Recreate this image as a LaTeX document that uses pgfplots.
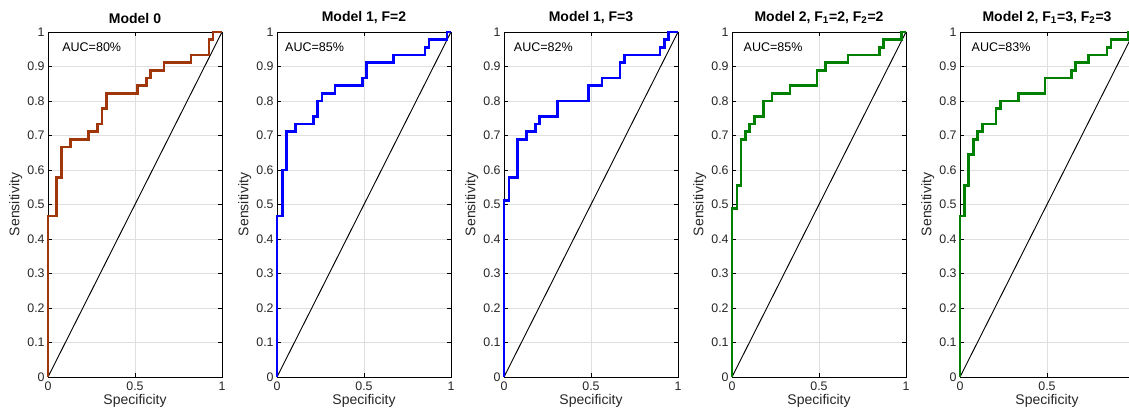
\documentclass[border=0pt]{standalone}
\usepackage{fontspec}
\setmainfont{Liberation Sans}
\usepackage{pgfplots}
\pgfplotsset{compat=1.18}

\definecolor{roc0}{RGB}{160,55,10}
\definecolor{rocblue}{RGB}{0,0,255}
\definecolor{rocgreen}{RGB}{0,128,0}

\tikzset{
  curve/.style={line width=2pt, line join=miter},
  diag/.style={black, line width=0.7pt},
  auc/.style={anchor=west, font=\fontsize{9.4}{10}\selectfont},
}

\pgfplotsset{
  roc/.style={
    set layers,
    scale only axis,
    width=130.5pt, height=258.75pt,
    anchor=south west,
    xmin=0, xmax=1, ymin=0, ymax=1,
    xtick={0,0.5,1},
    ytick={0,0.1,...,1},
    yticklabels={0,0.1,0.2,0.3,0.4,0.5,0.6,0.7,0.8,0.9,1},
    grid=major,
    major grid style={gray!25, line width=0.6pt},
    tick align=inside,
    major tick length=3pt,
    tick style={black, line width=0.5pt},
    axis line style={line width=0.6pt},
    tick label style={font=\fontsize{9.3}{10}\selectfont, text=black!85},
    label style={font=\fontsize{10.5}{12}\selectfont, text=black!85},
    title style={font=\bfseries\fontsize{10.5}{12}\selectfont, yshift=-3pt},
    xlabel={Specificity},
    ylabel={Sensitivity},
    xlabel style={yshift=4pt},
    ylabel style={yshift=-3pt},
    yticklabel style={xshift=1pt},
    /pgf/number format/assume math mode=true,
    clip=false,
  },
}

\begin{document}
\begin{tikzpicture}

% Model 0
\begin{axis}[roc, at={(36pt,24.75pt)}, title={Model 0}]
\addplot[diag] coordinates {(0,0) (1,1)};
\addplot[curve, roc0, on layer=axis foreground] coordinates {
(0,0) (0,0.467) (0.05,0.467) (0.05,0.578) (0.079,0.578) (0.079,0.667)
(0.13,0.667) (0.13,0.689) (0.234,0.689) (0.234,0.711) (0.285,0.711)
(0.285,0.733) (0.31,0.733) (0.31,0.778) (0.335,0.778) (0.335,0.822)
(0.515,0.822) (0.515,0.844) (0.567,0.844) (0.567,0.867) (0.59,0.867)
(0.59,0.889) (0.667,0.889) (0.667,0.911) (0.822,0.911) (0.822,0.933)
(0.925,0.933) (0.925,0.978) (0.948,0.978) (0.948,1) (1,1)
};
\node[auc] at (rel axis cs:0.055,0.955) {AUC=80\%};
\end{axis}

% Model 1, F=2
\begin{axis}[roc, at={(207.75pt,24.75pt)}, title={Model 1, F=2}]
\addplot[diag] coordinates {(0,0) (1,1)};
\addplot[curve, rocblue, on layer=axis foreground] coordinates {
(0,0) (0,0.467) (0.031,0.467) (0.031,0.6) (0.054,0.6) (0.054,0.711)
(0.106,0.711) (0.106,0.733) (0.21,0.733) (0.21,0.756) (0.233,0.756)
(0.233,0.8) (0.258,0.8) (0.258,0.822) (0.333,0.822) (0.333,0.844)
(0.49,0.844) (0.49,0.867) (0.515,0.867) (0.515,0.911) (0.669,0.911)
(0.669,0.933) (0.85,0.933) (0.85,0.956) (0.873,0.956) (0.873,0.978)
(0.977,0.978) (0.977,1) (1,1)
};
\node[auc] at (rel axis cs:0.02,0.955) {AUC=85\%};
\end{axis}

% Model 1, F=3
\begin{axis}[roc, at={(378pt,24.75pt)}, title={Model 1, F=3}]
\addplot[diag] coordinates {(0,0) (1,1)};
\addplot[curve, rocblue, on layer=axis foreground] coordinates {
(0,0) (0,0.511) (0.029,0.511) (0.029,0.578) (0.079,0.578) (0.079,0.689)
(0.128,0.689) (0.128,0.711) (0.18,0.711) (0.18,0.733) (0.203,0.733)
(0.203,0.756) (0.307,0.756) (0.307,0.8) (0.487,0.8) (0.487,0.844)
(0.563,0.844) (0.563,0.867) (0.667,0.867) (0.667,0.911) (0.692,0.911)
(0.692,0.933) (0.897,0.933) (0.897,0.956) (0.921,0.956) (0.921,0.978)
(0.946,0.978) (0.946,1) (1,1)
};
\node[auc] at (rel axis cs:0.03,0.955) {AUC=82\%};
\end{axis}

% Model 2, F1=2, F2=2
\begin{axis}[roc, at={(549pt,24.75pt)}, title={Model 2, F\textsubscript{1}=2, F\textsubscript{2}=2}]
\addplot[diag] coordinates {(0,0) (1,1)};
\addplot[curve, rocgreen, on layer=axis foreground] coordinates {
(0,0) (0,0.489) (0.029,0.489) (0.029,0.556) (0.052,0.556) (0.052,0.689)
(0.077,0.689) (0.077,0.711) (0.102,0.711) (0.102,0.733) (0.129,0.733)
(0.129,0.756) (0.18,0.756) (0.18,0.8) (0.23,0.8) (0.23,0.822)
(0.334,0.822) (0.334,0.844) (0.488,0.844) (0.488,0.889) (0.537,0.889)
(0.537,0.911) (0.666,0.911) (0.666,0.933) (0.846,0.933) (0.846,0.956)
(0.87,0.956) (0.87,0.978) (0.973,0.978) (0.973,1) (1,1)
};
\node[auc] at (rel axis cs:0.04,0.955) {AUC=85\%};
\end{axis}

% Model 2, F1=3, F2=3
\begin{axis}[roc, at={(720pt,24.75pt)}, xtick={0,0.5}, title={Model 2, F\textsubscript{1}=3, F\textsubscript{2}=3}]
\addplot[diag] coordinates {(0,0) (1,1)};
\addplot[curve, rocgreen, on layer=axis foreground] coordinates {
(0,0) (0,0.467) (0.025,0.467) (0.025,0.556) (0.05,0.556) (0.05,0.644)
(0.077,0.644) (0.077,0.689) (0.102,0.689) (0.102,0.711) (0.129,0.711)
(0.129,0.733) (0.206,0.733) (0.206,0.778) (0.233,0.778) (0.233,0.8)
(0.335,0.8) (0.335,0.822) (0.488,0.822) (0.488,0.867) (0.64,0.867)
(0.64,0.889) (0.665,0.889) (0.665,0.911) (0.74,0.911) (0.74,0.933)
(0.844,0.933) (0.844,0.956) (0.867,0.956) (0.867,0.978) (0.969,0.978)
(0.969,1) (1,1)
};
\node[auc] at (rel axis cs:0.04,0.955) {AUC=83\%};
\end{axis}

\pgfresetboundingbox
\path[use as bounding box] (0,0) rectangle (846.75pt,307.5pt);
\end{tikzpicture}
\end{document}
